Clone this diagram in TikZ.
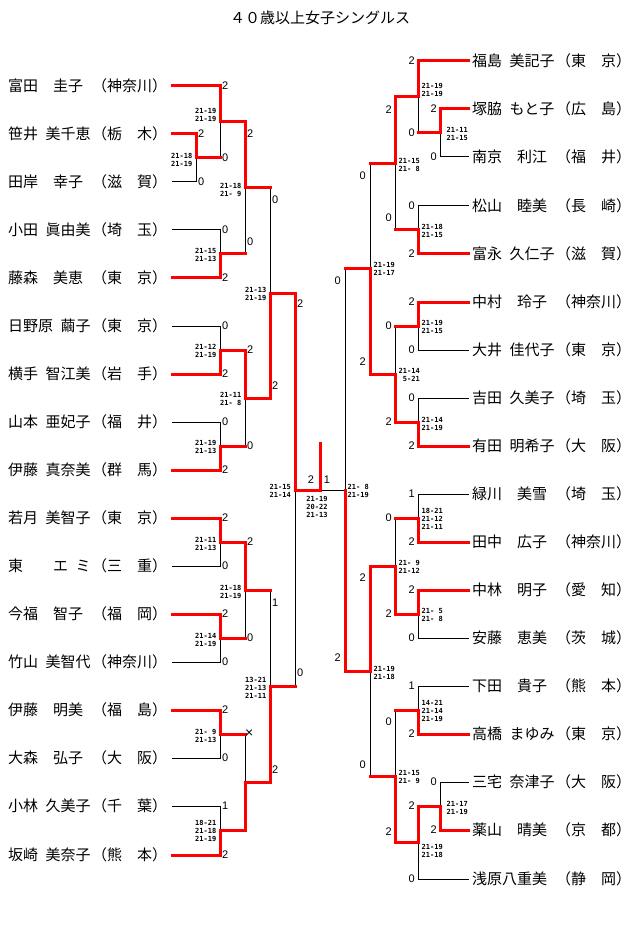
\documentclass[tikz,border=0pt]{standalone}
\usepackage{fontspec}
\newfontfamily\cjk{Noto Sans CJK JP}
\newfontfamily\numfont{Liberation Sans}
\newfontfamily\resfont{DejaVu Sans Mono}

\begin{document}
\begin{tikzpicture}[x=1pt,y=-1pt,
    player/.style={anchor=west,inner sep=0pt,font=\cjk\fontsize{15}{15}\selectfont},
    pref/.style={player},
    lsc/.style={anchor=west,inner sep=0pt,font=\numfont\fontsize{11}{11}\selectfont},
    rsc/.style={lsc,anchor=east},
    lres/.style={anchor=east,inner sep=0pt,align=right,font=\resfont\bfseries\fontsize{7}{8}\selectfont},
    rres/.style={lres,anchor=west,align=left},
    lose/.style={black,line width=1pt,line cap=rect},
    win/.style={red,line width=3pt,line cap=rect,line join=miter}]
        \fill[white] (0,0) rectangle (640,949);
        \node[player,anchor=center] (title) at (320,18) {４０歳以上女子シングルス};

        % 左侧选手
        \node[player] (L1) at (8,86) {富田　圭子};
        \node[player] (L2) at (8,134) {笹井\hspace{.5em}美千恵};
        \node[player] (L3) at (8,182) {田岸　幸子};
        \node[player] (L4) at (8,230) {小田\hspace{.5em}眞由美};
        \node[player] (L5) at (8,278) {藤森　美恵};
        \node[player] (L6) at (8,326) {日野原\hspace{.5em}繭子};
        \node[player] (L7) at (8,374) {横手\hspace{.5em}智江美};
        \node[player] (L8) at (8,422) {山本\hspace{.5em}亜妃子};
        \node[player] (L9) at (8,470) {伊藤\hspace{.5em}真奈美};
        \node[player] (L10) at (8,518) {若月\hspace{.5em}美智子};
        \node[player] (L11) at (8,566) {東\hspace{2em}エ\hspace{.5em}ミ};
        \node[player] (L12) at (8,614) {今福　智子};
        \node[player] (L13) at (8,662) {竹山\hspace{.5em}美智代};
        \node[player] (L14) at (8,710) {伊藤　明美};
        \node[player] (L15) at (8,758) {大森　弘子};
        \node[player] (L16) at (8,806) {小林\hspace{.5em}久美子};
        \node[player] (L17) at (8,855) {坂崎\hspace{.5em}美奈子};
        \node[pref] (LP1) at (92,86) {（神奈川）};
        \node[pref] (LP2) at (92,134) {（栃　木）};
        \node[pref] (LP3) at (92,182) {（滋　賀）};
        \node[pref] (LP4) at (92,230) {（埼　玉）};
        \node[pref] (LP5) at (92,278) {（東　京）};
        \node[pref] (LP6) at (92,326) {（東　京）};
        \node[pref] (LP7) at (92,374) {（岩　手）};
        \node[pref] (LP8) at (92,422) {（福　井）};
        \node[pref] (LP9) at (92,470) {（群　馬）};
        \node[pref] (LP10) at (92,518) {（東　京）};
        \node[pref] (LP11) at (92,566) {（三　重）};
        \node[pref] (LP12) at (92,614) {（福　岡）};
        \node[pref] (LP13) at (92,662) {（神奈川）};
        \node[pref] (LP14) at (92,710) {（福　島）};
        \node[pref] (LP15) at (92,758) {（大　阪）};
        \node[pref] (LP16) at (92,806) {（千　葉）};
        \node[pref] (LP17) at (92,855) {（熊　本）};

        % 右侧选手
        \node[player] (R1) at (472,61) {福島\hspace{.5em}美記子};
        \node[player] (R2) at (472,109) {塚脇\hspace{.5em}もと子};
        \node[player] (R3) at (472,157) {南京　利江};
        \node[player] (R4) at (472,206) {松山　睦美};
        \node[player] (R5) at (472,254) {富永\hspace{.5em}久仁子};
        \node[player] (R6) at (472,302) {中村　玲子};
        \node[player] (R7) at (472,350) {大井\hspace{.5em}佳代子};
        \node[player] (R8) at (472,398) {吉田\hspace{.5em}久美子};
        \node[player] (R9) at (472,446) {有田\hspace{.5em}明希子};
        \node[player] (R10) at (472,494) {緑川　美雪};
        \node[player] (R11) at (472,542) {田中　広子};
        \node[player] (R12) at (472,590) {中林　明子};
        \node[player] (R13) at (472,638) {安藤　恵美};
        \node[player] (R14) at (472,686) {下田　貴子};
        \node[player] (R15) at (472,734) {高橋\hspace{.5em}まゆみ};
        \node[player] (R16) at (472,782) {三宅\hspace{.5em}奈津子};
        \node[player] (R17) at (472,830) {薬山　晴美};
        \node[player] (R18) at (472,879) {浅原八重美};
        \node[pref] (RP1) at (556,61) {（東　京）};
        \node[pref] (RP2) at (556,109) {（広　島）};
        \node[pref] (RP3) at (556,157) {（福　井）};
        \node[pref] (RP4) at (556,206) {（長　崎）};
        \node[pref] (RP5) at (556,254) {（滋　賀）};
        \node[pref] (RP6) at (556,302) {（神奈川）};
        \node[pref] (RP7) at (556,350) {（東　京）};
        \node[pref] (RP8) at (556,398) {（埼　玉）};
        \node[pref] (RP9) at (556,446) {（大　阪）};
        \node[pref] (RP10) at (556,494) {（埼　玉）};
        \node[pref] (RP11) at (556,542) {（神奈川）};
        \node[pref] (RP12) at (556,590) {（愛　知）};
        \node[pref] (RP13) at (556,638) {（茨　城）};
        \node[pref] (RP14) at (556,686) {（熊　本）};
        \node[pref] (RP15) at (556,734) {（東　京）};
        \node[pref] (RP16) at (556,782) {（大　阪）};
        \node[pref] (RP17) at (556,830) {（京　都）};
        \node[pref] (RP18) at (556,879) {（静　岡）};

        % 线的起点
        \coordinate (LS1) at (172,86);
        \coordinate (LS2) at (172,134);
        \coordinate (LS3) at (172,182);
        \coordinate (LS4) at (172,230);
        \coordinate (LS5) at (172,278);
        \coordinate (LS6) at (172,326);
        \coordinate (LS7) at (172,374);
        \coordinate (LS8) at (172,422);
        \coordinate (LS9) at (172,470);
        \coordinate (LS10) at (172,518);
        \coordinate (LS11) at (172,566);
        \coordinate (LS12) at (172,614);
        \coordinate (LS13) at (172,662);
        \coordinate (LS14) at (172,710);
        \coordinate (LS15) at (172,758);
        \coordinate (LS16) at (172,806);
        \coordinate (LS17) at (172,855);
        \coordinate (RS1) at (468,61);
        \coordinate (RS2) at (468,109);
        \coordinate (RS3) at (468,157);
        \coordinate (RS4) at (468,206);
        \coordinate (RS5) at (468,254);
        \coordinate (RS6) at (468,302);
        \coordinate (RS7) at (468,350);
        \coordinate (RS8) at (468,398);
        \coordinate (RS9) at (468,446);
        \coordinate (RS10) at (468,494);
        \coordinate (RS11) at (468,542);
        \coordinate (RS12) at (468,590);
        \coordinate (RS13) at (468,638);
        \coordinate (RS14) at (468,686);
        \coordinate (RS15) at (468,734);
        \coordinate (RS16) at (468,782);
        \coordinate (RS17) at (468,830);
        \coordinate (RS18) at (468,879);

        % 各场比赛的交点
        \coordinate (LJ1) at (196,158);
        \coordinate (LJ2) at (220,122);
        \coordinate (LJ3) at (220,254);
        \coordinate (LJ4) at (245,188);
        \coordinate (LJ5) at (220,350);
        \coordinate (LJ6) at (220,446);
        \coordinate (LJ7) at (245,398);
        \coordinate (LJ8) at (270,293);
        \coordinate (LJ9) at (220,542);
        \coordinate (LJ10) at (220,638);
        \coordinate (LJ11) at (245,590);
        \coordinate (LJ12) at (220,734);
        \coordinate (LJ13) at (220,830.5);
        \coordinate (LJ14) at (245,782);
        \coordinate (LJ15) at (270,686);
        \coordinate (LJ16) at (295,490);
        \coordinate (F) at (320,490);
        \coordinate (T) at (320,443);
        \coordinate (RJ1) at (440,133);
        \coordinate (RJ2) at (418,97);
        \coordinate (RJ3) at (418,230);
        \coordinate (RJ4) at (395,163.5);
        \coordinate (RJ5) at (418,326);
        \coordinate (RJ6) at (418,422);
        \coordinate (RJ7) at (395,374);
        \coordinate (RJ8) at (370,268.5);
        \coordinate (RJ9) at (418,518);
        \coordinate (RJ10) at (418,614);
        \coordinate (RJ11) at (395,566);
        \coordinate (RJ12) at (418,710);
        \coordinate (RJ13) at (440,806);
        \coordinate (RJ14) at (418,842.5);
        \coordinate (RJ15) at (395,776);
        \coordinate (RJ16) at (370,671);
        \coordinate (RJ17) at (345,490);

        % 败者的线
        \draw[lose] (LS3) -| (LJ1);
        \draw[lose] (LJ1 -| LJ2) -- (LJ2);
        \draw[lose] (LS4) -| (LJ3);
        \draw[lose] (LJ3 -| LJ4) -- (LJ4);
        \draw[lose] (LS6) -| (LJ5);
        \draw[lose] (LS8) -| (LJ6);
        \draw[lose] (LJ6 -| LJ7) -- (LJ7);
        \draw[lose] (LJ4 -| LJ8) -- (LJ8);
        \draw[lose] (LS11) -| (LJ9);
        \draw[lose] (LS13) -| (LJ10);
        \draw[lose] (LJ10 -| LJ11) -- (LJ11);
        \draw[lose] (LS15) -| (LJ12);
        \draw[lose] (LS16) -| (LJ13);
        \draw[lose] (LJ12 -| LJ14) -- (LJ14);
        \draw[lose] (LJ11 -| LJ15) -- (LJ15);
        \draw[lose] (LJ15 -| LJ16) -- (LJ16);
        \draw[lose] (RS3) -| (RJ1);
        \draw[lose] (RJ1 -| RJ2) -- (RJ2);
        \draw[lose] (RS4) -| (RJ3);
        \draw[lose] (RJ3 -| RJ4) -- (RJ4);
        \draw[lose] (RS7) -| (RJ5);
        \draw[lose] (RS8) -| (RJ6);
        \draw[lose] (RJ5 -| RJ7) -- (RJ7);
        \draw[lose] (RJ4 -| RJ8) -- (RJ8);
        \draw[lose] (RS10) -| (RJ9);
        \draw[lose] (RS13) -| (RJ10);
        \draw[lose] (RJ9 -| RJ11) -- (RJ11);
        \draw[lose] (RS14) -| (RJ12);
        \draw[lose] (RS16) -| (RJ13);
        \draw[lose] (RS18) -| (RJ14);
        \draw[lose] (RJ12 -| RJ15) -- (RJ15);
        \draw[lose] (RJ15 -| RJ16) -- (RJ16);
        \draw[lose] (RJ8 -| RJ17) -- (RJ17) -- (F);

        % 胜者的线
        \draw[win] (LS2) -| (LJ1) -- (LJ1 -| LJ2);
        \draw[win] (LS1) -| (LJ2) -- (LJ2 -| LJ4);
        \draw[win] (LS5) -| (LJ3) -- (LJ3 -| LJ4);
        \draw[win] (LJ2 -| LJ4) -- (LJ4) -- (LJ4 -| LJ8);
        \draw[win] (LS7) -| (LJ5) -- (LJ5 -| LJ7);
        \draw[win] (LS9) -| (LJ6) -- (LJ6 -| LJ7);
        \draw[win] (LJ5 -| LJ7) -- (LJ7) -- (LJ7 -| LJ8);
        \draw[win] (LJ7 -| LJ8) -- (LJ8) -- (LJ8 -| LJ16);
        \draw[win] (LS10) -| (LJ9) -- (LJ9 -| LJ11);
        \draw[win] (LS12) -| (LJ10) -- (LJ10 -| LJ11);
        \draw[win] (LJ9 -| LJ11) -- (LJ11) -- (LJ11 -| LJ15);
        \draw[win] (LS14) -| (LJ12) -- (LJ12 -| LJ14);
        \draw[win] (LS17) -| (LJ13) -- (LJ13 -| LJ14);
        \draw[win] (LJ13 -| LJ14) -- (LJ14) -- (LJ14 -| LJ15);
        \draw[win] (LJ14 -| LJ15) -- (LJ15) -- (LJ15 -| LJ16);
        \draw[win] (LJ8 -| LJ16) -- (LJ16) -- (F) -- (T);
        \draw[win] (RS2) -| (RJ1) -- (RJ1 -| RJ2);
        \draw[win] (RS1) -| (RJ2) -- (RJ2 -| RJ4);
        \draw[win] (RS5) -| (RJ3) -- (RJ3 -| RJ4);
        \draw[win] (RJ2 -| RJ4) -- (RJ4) -- (RJ4 -| RJ8);
        \draw[win] (RS6) -| (RJ5) -- (RJ5 -| RJ7);
        \draw[win] (RS9) -| (RJ6) -- (RJ6 -| RJ7);
        \draw[win] (RJ6 -| RJ7) -- (RJ7) -- (RJ7 -| RJ8);
        \draw[win] (RJ7 -| RJ8) -- (RJ8) -- (RJ8 -| RJ17);
        \draw[win] (RS11) -| (RJ9) -- (RJ9 -| RJ11);
        \draw[win] (RS12) -| (RJ10) -- (RJ10 -| RJ11);
        \draw[win] (RJ10 -| RJ11) -- (RJ11) -- (RJ11 -| RJ16);
        \draw[win] (RS15) -| (RJ12) -- (RJ12 -| RJ15);
        \draw[win] (RS17) -| (RJ13) -- (RJ13 -| RJ14);
        \draw[win] (RJ13 -| RJ14) -- (RJ14) -- (RJ14 -| RJ15);
        \draw[win] (RJ14 -| RJ15) -- (RJ15) -- (RJ15 -| RJ16);
        \draw[win] (RJ11 -| RJ16) -- (RJ16) -- (RJ16 -| RJ17);
        \draw[win] (RJ16 -| RJ17) -- (RJ17);

        % 左侧得分
        \node[lsc] (a1) at (198,134) {2};
        \node[lsc] (a2) at (198,182) {0};
        \node[lsc] (a3) at (222,86) {2};
        \node[lsc] (a4) at (222,158) {0};
        \node[lsc] (a5) at (222,230) {0};
        \node[lsc] (a6) at (222,278) {2};
        \node[lsc] (a7) at (247,134) {2};
        \node[lsc] (a8) at (247,242) {0};
        \node[lsc] (a9) at (222,326) {0};
        \node[lsc] (a10) at (222,374) {2};
        \node[lsc] (a11) at (222,422) {0};
        \node[lsc] (a12) at (222,470) {2};
        \node[lsc] (a13) at (247,350) {2};
        \node[lsc] (a14) at (247,446) {0};
        \node[lsc] (a15) at (272,200) {0};
        \node[lsc] (a16) at (272,386) {2};
        \node[lsc] (a17) at (222,518) {2};
        \node[lsc] (a18) at (222,566) {0};
        \node[lsc] (a19) at (222,614) {2};
        \node[lsc] (a20) at (222,662) {0};
        \node[lsc] (a21) at (247,542) {2};
        \node[lsc] (a22) at (247,638) {0};
        \node[lsc] (a23) at (222,710) {2};
        \node[lsc] (a24) at (222,758) {0};
        \node[lsc] (a25) at (222,806) {1};
        \node[lsc] (a26) at (222,855) {2};
        \node[lsc,font=\numfont\fontsize{14}{14}\selectfont] (a27) at (245,734) {×};
        \node[lsc] (a28) at (272,603) {1};
        \node[lsc] (a29) at (272,770) {2};
        \node[lsc] (a30) at (297,304) {2};
        \node[lsc] (a31) at (297,673) {0};
        \node[lsc,anchor=center] (a32) at (311,480) {2};
        \node[lsc,anchor=center] (a33) at (327,480) {1};

        % 右侧得分
        \node[rsc] (b1) at (437,109) {2};
        \node[rsc] (b2) at (437,157) {0};
        \node[rsc] (b3) at (415,61) {2};
        \node[rsc] (b4) at (415,133) {0};
        \node[rsc] (b5) at (415,206) {0};
        \node[rsc] (b6) at (415,254) {2};
        \node[rsc] (b7) at (392,110) {2};
        \node[rsc] (b8) at (392,218) {0};
        \node[rsc] (b9) at (415,302) {2};
        \node[rsc] (b10) at (415,350) {0};
        \node[rsc] (b11) at (415,398) {0};
        \node[rsc] (b12) at (415,446) {2};
        \node[rsc] (b13) at (392,326) {0};
        \node[rsc] (b14) at (392,422) {2};
        \node[rsc] (b15) at (366,176) {0};
        \node[rsc] (b16) at (366,362) {2};
        \node[rsc] (b17) at (415,494) {1};
        \node[rsc] (b18) at (415,542) {2};
        \node[rsc] (b19) at (415,590) {2};
        \node[rsc] (b20) at (415,638) {0};
        \node[rsc] (b21) at (392,518) {0};
        \node[rsc] (b22) at (392,614) {2};
        \node[rsc] (b23) at (415,686) {1};
        \node[rsc] (b24) at (415,734) {2};
        \node[rsc] (b25) at (437,782) {0};
        \node[rsc] (b26) at (437,830) {2};
        \node[rsc] (b27) at (415,806) {2};
        \node[rsc] (b28) at (415,879) {0};
        \node[rsc] (b29) at (392,722) {0};
        \node[rsc] (b30) at (392,832) {2};
        \node[rsc] (b31) at (366,578) {2};
        \node[rsc] (b32) at (366,765) {0};
        \node[rsc] (b33) at (341,281) {0};
        \node[rsc] (b34) at (341,658) {2};

        % 左侧比分
        \node[lres] (c1) at (216.5,115) {21-19\\21-19};
        \node[lres] (c2) at (192.5,160) {21-18\\21-19};
        \node[lres] (c3) at (241.5,190) {21-18\\21-\phantom{0}9};
        \node[lres] (c4) at (216.5,255) {21-15\\21-13};
        \node[lres] (c5) at (266.5,294) {21-13\\21-19};
        \node[lres] (c6) at (216.5,351) {21-12\\21-19};
        \node[lres] (c7) at (241.5,399) {21-11\\21-\phantom{0}8};
        \node[lres] (c8) at (216.5,447) {21-19\\21-13};
        \node[lres] (c9) at (291,491) {21-15\\21-14};
        \node[lres] (c10) at (216.5,544) {21-11\\21-13};
        \node[lres] (c11) at (241.5,592) {21-18\\21-19};
        \node[lres] (c12) at (216.5,640) {21-14\\21-19};
        \node[lres] (c13) at (266.5,688) {13-21\\21-13\\21-11};
        \node[lres] (c14) at (216.5,736) {21-\phantom{0}9\\21-13};
        \node[lres] (c15) at (216.5,831) {18-21\\21-18\\21-19};
        \node[lres,anchor=center,align=center] (c16) at (317,507) {21-19\\20-22\\21-13};

        % 右侧比分
        \node[rres] (d1) at (421.5,90) {21-19\\21-19};
        \node[rres] (d2) at (446.5,134) {21-11\\21-15};
        \node[rres] (d3) at (398.5,165) {21-15\\21-\phantom{0}8};
        \node[rres] (d4) at (421.5,231) {21-18\\21-15};
        \node[rres] (d5) at (373.5,269) {21-19\\21-17};
        \node[rres] (d6) at (421.5,327) {21-19\\21-15};
        \node[rres] (d7) at (398.5,375) {21-14\\\phantom{0}5-21};
        \node[rres] (d8) at (421.5,424) {21-14\\21-19};
        \node[rres] (d9) at (347.5,491) {21-\phantom{0}8\\21-19};
        \node[rres] (d10) at (421.5,519) {18-21\\21-12\\21-11};
        \node[rres] (d11) at (398.5,567) {21-\phantom{0}9\\21-12};
        \node[rres] (d12) at (421.5,615) {21-\phantom{0}5\\21-\phantom{0}8};
        \node[rres] (d13) at (373.5,673) {21-19\\21-18};
        \node[rres] (d14) at (421.5,711) {14-21\\21-14\\21-19};
        \node[rres] (d15) at (398.5,777) {21-15\\21-\phantom{0}9};
        \node[rres] (d16) at (446.5,808) {21-17\\21-19};
        \node[rres] (d17) at (421.5,851) {21-19\\21-18};
\end{tikzpicture}
\end{document}
